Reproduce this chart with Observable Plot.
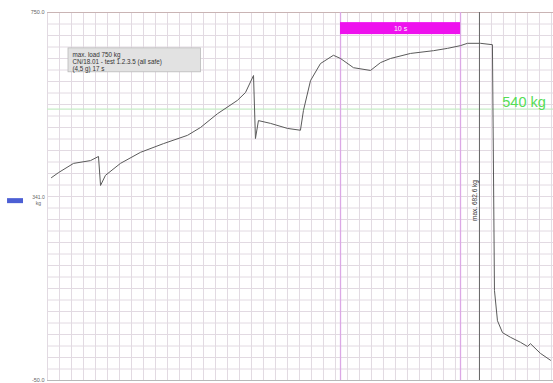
<!DOCTYPE html>
<html>
<head>
<meta charset="utf-8">
<script src="https://cdn.jsdelivr.net/npm/d3@7"></script>
<script src="https://cdn.jsdelivr.net/npm/@observablehq/plot@0.6"></script>
<style>
  html, body { margin: 0; padding: 0; background: #fff; }
  svg { font-family: "Liberation Sans", Arial, sans-serif; overflow: visible; }
</style>
</head>
<body>
<div id="chart"></div>
<script>
// Load test recording: time in seconds, load in kg
const times = [0.33, 0.92, 2.17, 3.58, 4.25, 4.42, 4.83, 6.08, 7.75, 9.67, 11.67, 12.75, 14.17, 15.83, 16.5, 17.17, 17.33, 17.58, 18.58, 20.0, 21.08, 21.33, 21.92, 22.75, 23.83, 24.42, 25.5, 26.92, 27.75, 28.58, 30.25, 32.17, 33.33, 34.42, 35.0, 36.08, 37.08, 37.25, 37.5, 37.92, 38.58, 39.42, 40.0, 40.25, 41.08, 41.92];
const loads = [391, 402, 422, 428, 437, 374, 396, 422, 446, 465, 483, 500, 530, 559, 576, 613, 476, 515, 509, 498, 494, 537, 602, 639, 657, 650, 630, 624, 641, 650, 661, 667, 672, 678, 683, 683, 680, 146, 80, 54, 44, 33, 24, 30, 9, -6];

// Axis labels and annotations
const yTickValues = [750, -50];
const yTickLabels = ["750.0", "-50.0"];
const markerKg = 341;
const markerLabel = ["341.0", "kg"];
const targetKg = 540;
const holdStart = 24.42;
const holdEnd = 34.42;
const holdLabel = "10 s";
const maxTime = 36.0;
const maxKg = 682.6;
const infoLines = ["max. load 750 kg", "CN/18.01 - test 1.2.3.5 (all safe)", "(4,5 g) 17 s"];

const data = times.map((t, i) => ({t, kg: loads[i]}));
const xDomain = [0, 42.17];
const yDomain = [-50, 750];

const chart = Plot.plot({
  width: 553,
  height: 383,
  marginLeft: 47,
  marginTop: 12,
  marginRight: 0,
  marginBottom: 3,
  x: {domain: xDomain, axis: null},
  y: {domain: yDomain, axis: null},
  marks: [
    // grid
    Plot.ruleX(d3.range(0, 43, 1), {stroke: "#e2dae2", strokeWidth: 1}),
    Plot.ruleY(d3.range(-50, 751, 25), {stroke: "#e2dae2", strokeWidth: 1}),
    Plot.ruleY([750], {stroke: "#c9b4b4"}),
    Plot.ruleY([-50], {stroke: "#b8b8b8"}),
    // target load
    Plot.ruleY([targetKg], {stroke: "#c6ecc6", strokeWidth: 1.2}),
    // hold period
    Plot.ruleX([holdStart, holdEnd], {stroke: "#dca8e6", strokeWidth: 1.3}),
    Plot.rect([{a: holdStart, b: holdEnd}], {x1: "a", x2: "b", y1: 702, y2: 728, fill: "#ee11ee"}),
    Plot.text([holdLabel], {x: (holdStart + holdEnd) / 2, y: 715, text: d => d, fill: "#fff", fontSize: 7}),
    // maximum
    Plot.ruleX([maxTime], {stroke: "#666", strokeWidth: 1}),
    Plot.text([maxKg], {x: () => maxTime, frameAnchor: "middle", dy: 4, dx: -5, rotate: -90, text: d => `max. ${d.toFixed(1)} kg`, fill: "#333", fontSize: 6.5}),
    // info box
    Plot.rect([infoLines], {x1: 1.75, x2: 12.8, y1: 620, y2: 672, fill: "#e2e2e2", stroke: "#bbb", strokeWidth: 0.8}),
    Plot.text([infoLines.join("\n")], {frameAnchor: "top-left", dx: 25, dy: 39, lineHeight: 1.15, fill: "#333", fontSize: 6.3}),
    // recorded load
    Plot.line(data, {x: "t", y: "kg", stroke: "#5a5a5a", strokeWidth: 1}),
    // target load label
    Plot.text([targetKg], {x: () => 37.9, y: d => d, text: d => `${d} kg`, textAnchor: "start", dy: -7, fill: "#55dd55", fontSize: 14.5}),
    // left labels
    Plot.text(yTickValues, {y: d => d, frameAnchor: "left", text: (d, i) => yTickLabels[i], textAnchor: "end", dx: -3, fill: "#666", fontSize: 5.5}),
    Plot.ruleY([markerKg], {x1: -3.33, x2: -2.0, stroke: "#4c5fd4", strokeWidth: 5}),
    Plot.text([markerLabel.join("\n")], {y: () => markerKg, frameAnchor: "left", dx: -9, dy: -1, textAnchor: "middle", lineHeight: 1.2, fill: "#666", fontSize: 5})
  ]
});

document.getElementById("chart").appendChild(chart);
</script>
</body>
</html>
